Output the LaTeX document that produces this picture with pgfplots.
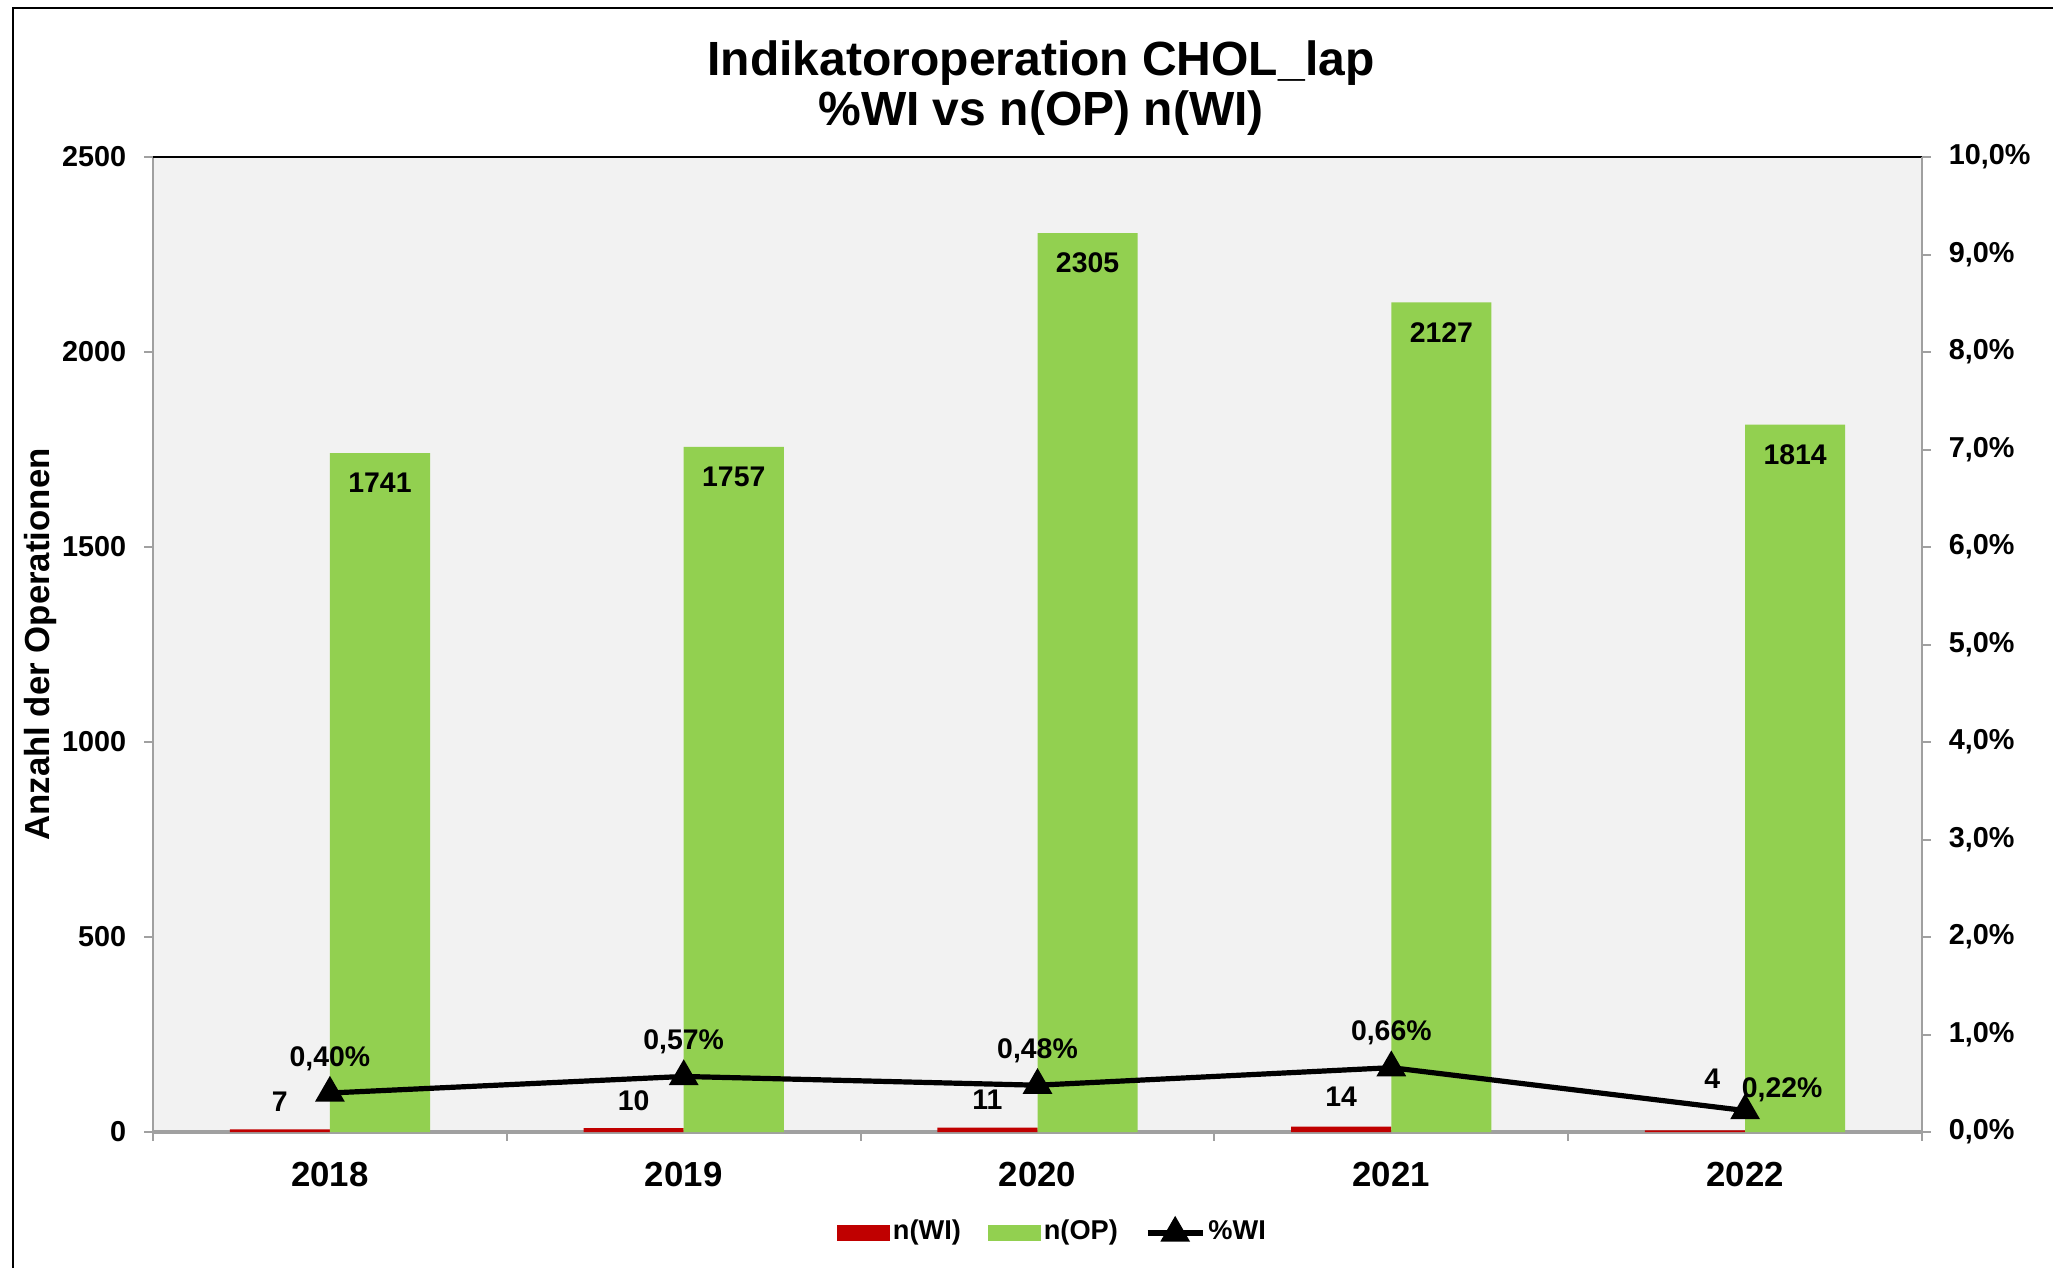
\documentclass[border=0pt]{standalone}
\usepackage{fontspec}
\setmainfont{Liberation Sans}
\usepackage{pgfplots}
\pgfplotsset{compat=1.18}
\usepackage{pgfplotstable}
\definecolor{wired}{HTML}{C00000}
\definecolor{opgreen}{HTML}{92D050}
\definecolor{plotbg}{HTML}{F2F2F2}
\definecolor{axgray}{HTML}{A0A0A0}

\pgfplotsset{trilegend/.style={legend image code/.code={\draw[mark repeat=2,mark phase=2,##1] plot coordinates {(0pt,0pt)(6.875pt,0pt)(13.75pt,0pt)};}}}

\pgfplotstableread{
x wi op wioff wixs
0 7 1741 6.8 -12.52
1 10 1757 7.0 -12.52
2 11 2305 7.0 -12.52
3 14 2127 7.4 -12.52
4 4 1814 12.9 -8.2
}\countdata
\pgfplotstableread{
x pct dx dy
0 0.40 0 9.2
1 0.57 0 9.2
2 0.48 0 9.2
3 0.66 0 9.2
4 0.22 9.25 5.75
}\pctdata

\newcommand{\fs}[1]{\fontsize{#1}{#1}\selectfont\bfseries}

\begin{document}
\begin{tikzpicture}
\useasboundingbox (-38.25pt,-34pt) rectangle (475pt,283pt);
\draw[line width=0.5pt] (-35pt,-34pt) -- (-35pt,281pt) -- (475pt,281pt);
\begin{axis}[
  at={(0pt,0pt)}, anchor=south west,
  scale only axis, width=442.25pt, height=243.75pt,
  xmin=-0.5, xmax=4.5, ymin=0, ymax=2500,
  axis background/.style={fill=plotbg},
  axis x line*=bottom, axis y line*=left,
  x axis line style={axgray, line width=0.8pt, -},
  y axis line style={axgray, line width=0.5pt, -},
  tick align=outside,
  xtick={-0.5,0.5,...,4.5},
  x tick label as interval,
  xticklabels={2018,2019,2020,2021,2022},
  ytick={0,500,...,2500},
  major tick length=2.2pt,
  tick style={axgray, line width=0.5pt},
  /pgf/number format/assume math mode=true,
  /pgf/number format/1000 sep={},
  yticklabel style={font=\fs{7.2}, text=black, anchor=east, inner sep=0pt, xshift=-4.3pt},
  xticklabel style={font=\fs{8.7}, text=black, anchor=north, inner sep=0pt, yshift=-5.15pt},
  ylabel={Anzahl der Operationen},
  ylabel style={font=\fs{8.7}, at={(axis description cs:-0.0635,0.5)}, anchor=center},
  clip=false,
]
\addplot[ybar, bar width=0.283, bar shift=-0.1415, fill=wired, draw=none,
  nodes near coords, point meta=y,
  visualization depends on={\thisrow{wioff}\as\wioff},
  visualization depends on={\thisrow{wixs}\as\wixs},
  every node near coord/.append style={font=\fs{7.1}, anchor=center, text=black, text depth=0pt, yshift=\wioff pt, xshift=\wixs pt}]
  table[x=x, y=wi] {\countdata};
\addplot[ybar, bar width=0.283, bar shift=0.1415, fill=opgreen, draw=none,
  nodes near coords, point meta=y,
  every node near coord/.append style={font=\fs{7.1}, anchor=center, text=black, text depth=0pt, yshift=-7.45pt, xshift=12.52pt}]
  table[x=x, y=op] {\countdata};
\draw[black, line width=0.4pt] (axis description cs:0,1) -- (axis description cs:1,1);
\end{axis}
\begin{axis}[
  at={(0pt,0pt)}, anchor=south west,
  scale only axis, width=442.25pt, height=243.75pt,
  xmin=-0.5, xmax=4.5, ymin=0, ymax=10,
  axis x line=none, axis y line*=right,
  y axis line style={axgray, line width=0.5pt, -},
  tick align=outside, major tick length=2.2pt,
  tick style={axgray, line width=0.5pt},
  ytick={0,1,...,10},
  /pgf/number format/assume math mode=true,
  yticklabel={\pgfmathprintnumber[fixed,fixed zerofill,precision=1,use comma]{\tick}\%},
  yticklabel style={font=\fs{7.2}, text=black, anchor=west, inner sep=0pt, xshift=4.3pt},
  clip=false,
  legend columns=3,
  legend style={at={(axis description cs:0.5,0)}, anchor=center, xshift=3.9pt, yshift=-25.25pt,
    draw=none, fill=none, font=\fs{6.8}, inner sep=0pt, nodes={inner sep=0.8pt},
    /tikz/every even column/.append style={column sep=6pt}},
]
\addlegendimage{legend image code/.code={\fill[wired] (0pt,-1.75pt) rectangle (12.75pt,1.75pt);}}
\addlegendentry{n(WI)}
\addlegendimage{legend image code/.code={\fill[opgreen] (0pt,-1.75pt) rectangle (12.75pt,1.75pt);}}
\addlegendentry{n(OP)}
\addplot[black, line width=1.3pt, mark=triangle*, mark size=3pt, mark options={solid},
  trilegend,
  nodes near coords={\pgfmathprintnumber[fixed,fixed zerofill,precision=2,use comma]{\pgfplotspointmeta}\%},
  point meta=y,
  visualization depends on={\thisrow{dx}\as\pdx},
  visualization depends on={\thisrow{dy}\as\pdy},
  every node near coord/.append style={font=\fs{7.1}, anchor=center, text=black, text depth=0pt, xshift=\pdx pt, yshift=\pdy pt}]
  table[x=x, y=pct] {\pctdata};
\addlegendentry{\%WI}
\end{axis}
\node[font=\fs{12}, anchor=base] at (222pt,264.25pt) {Indikatoroperation CHOL\_lap};
\node[font=\fs{12}, anchor=base] at (222pt,251.75pt) {\%WI vs n(OP) n(WI)};
\end{tikzpicture}
\end{document}
